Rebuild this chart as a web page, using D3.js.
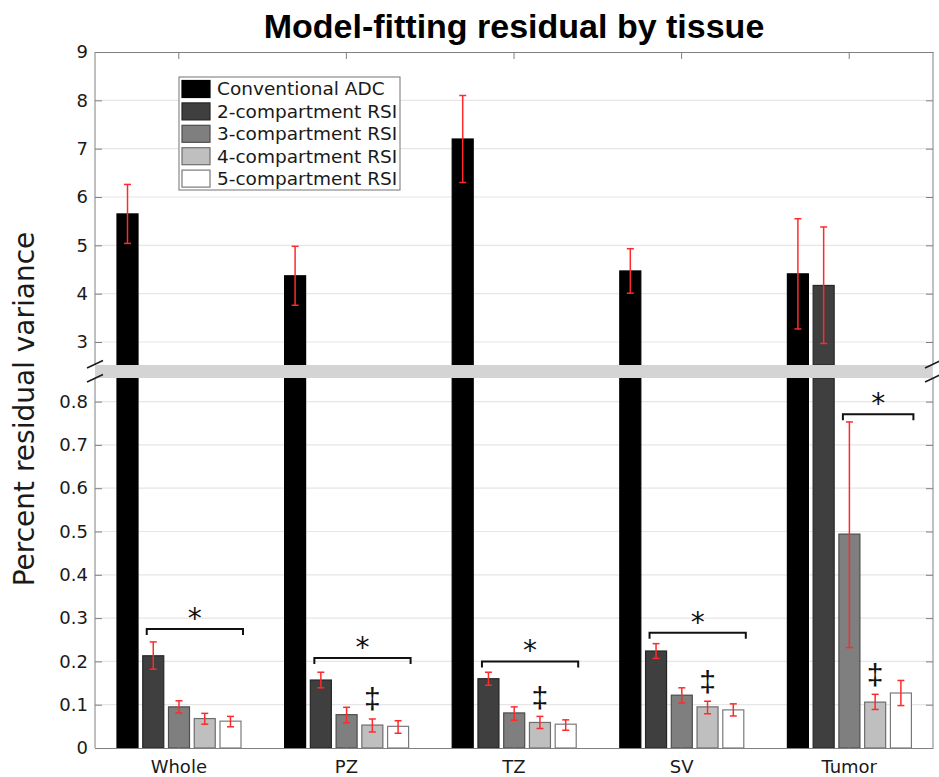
<!DOCTYPE html>
<html>
<head>
<meta charset="utf-8">
<script src="https://cdn.jsdelivr.net/npm/d3@7"></script>
<style>
  body { margin: 0; background: #fff; }
  text { font-family: "DejaVu Sans", sans-serif; }
</style>
</head>
<body>
<svg id="chart"></svg>
<script>
const tissues = ["Whole", "PZ", "TZ", "SV", "Tumor"];
const models = ["Conventional ADC", "2-compartment RSI", "3-compartment RSI", "4-compartment RSI", "5-compartment RSI"];

// mean values per tissue, one per model
const meanValues = [
  [5.65, 0.213, 0.095, 0.068, 0.062],
  [4.37, 0.157, 0.077, 0.053, 0.050],
  [7.20, 0.160, 0.081, 0.059, 0.055],
  [4.47, 0.224, 0.122, 0.095, 0.088],
  [4.41, 4.17, 0.494, 0.106, 0.127]
];
const errHigh = [
  [6.26, 0.245, 0.109, 0.080, 0.073],
  [4.98, 0.175, 0.094, 0.067, 0.063],
  [8.10, 0.175, 0.095, 0.073, 0.065],
  [4.93, 0.241, 0.139, 0.108, 0.102],
  [5.55, 5.38, 0.753, 0.124, 0.156]
];
const errLow = [
  [5.04, 0.182, 0.081, 0.055, 0.049],
  [3.76, 0.139, 0.058, 0.037, 0.034],
  [6.30, 0.145, 0.064, 0.045, 0.041],
  [4.01, 0.207, 0.104, 0.079, 0.074],
  [3.27, 2.97, 0.232, 0.089, 0.098]
];

const upperTicks = [3, 4, 5, 6, 7, 8, 9];
const lowerTicks = [0, 0.1, 0.2, 0.3, 0.4, 0.5, 0.6, 0.7, 0.8];

// significance brackets (*)
const bracketTissues = ["Whole", "PZ", "TZ", "SV", "Tumor"];
const bracketFrom = [1, 1, 1, 1, 2];
const bracketValue = [0.275, 0.208, 0.200, 0.266, 0.771];

// double-dagger marks over the 4-compartment bar
const daggerTissues = ["PZ", "TZ", "SV", "Tumor"];
const daggerValue = [0.115, 0.117, 0.154, 0.169];

const fills = ["#000000", "#3f3f3f", "#7f7f7f", "#bfbfbf", "#ffffff"];
const strokes = ["#000000", "#262626", "#4d4d4d", "#6e6e6e", "#7a7a7a"];

const width = 939, height = 777;
const plotLeft = 95, plotRight = 933, plotTop = 52, plotBottom = 748;
const breakTop = 365, breakBottom = 378;

const svg = d3.select("#chart").attr("width", width).attr("height", height);

const x0 = d3.scaleBand().domain(tissues).range([plotLeft, plotRight]);
const x1 = d3.scaleBand().domain(d3.range(models.length))
  .range([22, 146]).paddingInner(0.184).paddingOuter(0);

const yUp = d3.scaleLinear().domain([3, 9]).range([342, plotTop]);
const yLo = d3.scaleLinear().domain([0, 0.8]).range([plotBottom, 401.6]);
const lowMax = yLo.invert(breakBottom);

function yOf(v) { return v > lowMax ? yUp(v) : yLo(v); }

// gridlines
const grid = svg.append("g");
grid.selectAll("line.gu").data(upperTicks.filter(d => d < 9)).enter().append("line")
  .attr("x1", plotLeft).attr("x2", plotRight)
  .attr("y1", d => yUp(d)).attr("y2", d => yUp(d))
  .attr("stroke", "#e6e6e6").attr("stroke-width", 1.2);
grid.selectAll("line.gl").data(lowerTicks.filter(d => d > 0)).enter().append("line")
  .attr("x1", plotLeft).attr("x2", plotRight)
  .attr("y1", d => yLo(d)).attr("y2", d => yLo(d))
  .attr("stroke", "#e6e6e6").attr("stroke-width", 1.2);

// bars
const flat = [];
tissues.forEach((t, i) => models.forEach((m, j) => {
  flat.push({ tissue: t, s: j, v: meanValues[i][j], lo: errLow[i][j], hi: errHigh[i][j] });
}));

const bars = svg.append("g");
flat.forEach(d => {
  const bx = x0(d.tissue) + x1(d.s);
  const bw = x1.bandwidth();
  if (d.v > lowMax) {
    bars.append("rect").attr("x", bx).attr("y", yUp(d.v))
      .attr("width", bw).attr("height", breakTop - yUp(d.v))
      .attr("fill", fills[d.s]).attr("stroke", strokes[d.s]).attr("stroke-width", 1.2);
    bars.append("rect").attr("x", bx).attr("y", breakBottom)
      .attr("width", bw).attr("height", plotBottom - breakBottom)
      .attr("fill", fills[d.s]).attr("stroke", strokes[d.s]).attr("stroke-width", 1.2);
  } else {
    bars.append("rect").attr("x", bx).attr("y", yLo(d.v))
      .attr("width", bw).attr("height", plotBottom - yLo(d.v))
      .attr("fill", fills[d.s]).attr("stroke", strokes[d.s]).attr("stroke-width", 1.2);
  }
});

// error bars
const err = svg.append("g").attr("stroke", "#ff2a2a").attr("stroke-width", 1.5);
flat.forEach(d => {
  const cx = x0(d.tissue) + x1(d.s) + x1.bandwidth() / 2;
  const y1 = yOf(d.hi), y2 = yOf(d.lo);
  err.append("line").attr("x1", cx).attr("x2", cx).attr("y1", y1).attr("y2", y2);
  err.append("line").attr("x1", cx - 3.5).attr("x2", cx + 3.5).attr("y1", y1).attr("y2", y1);
  err.append("line").attr("x1", cx - 3.5).attr("x2", cx + 3.5).attr("y1", y2).attr("y2", y2);
});

// axes
const axisColor = "#808080";
function styleAxis(g) {
  g.selectAll("path.domain").attr("stroke", axisColor);
  g.selectAll(".tick line").attr("stroke", axisColor);
  g.selectAll(".tick text").attr("fill", "#1a1a1a").style("font-size", "18px")
    .style("font-family", "DejaVu Sans, sans-serif");
}

const leftUp = svg.append("g").attr("transform", `translate(${plotLeft},0)`)
  .call(d3.axisLeft(yUp).tickValues(upperTicks).tickSize(-7).tickPadding(7).tickSizeOuter(0).tickFormat(d3.format("d")));
leftUp.select("path.domain").attr("d", `M0,${plotTop}V${breakTop}`);
styleAxis(leftUp);

const leftLo = svg.append("g").attr("transform", `translate(${plotLeft},0)`)
  .call(d3.axisLeft(yLo).tickValues(lowerTicks).tickSize(-7).tickPadding(7).tickSizeOuter(0)
    .tickFormat(d => d === 0 ? "0" : d3.format(".1f")(d)));
leftLo.select("path.domain").attr("d", `M0,${breakBottom}V${plotBottom}`);
styleAxis(leftLo);

const rightUp = svg.append("g").attr("transform", `translate(${plotRight},0)`)
  .call(d3.axisRight(yUp).tickValues(upperTicks).tickSize(-7).tickSizeOuter(0).tickFormat(""));
rightUp.select("path.domain").attr("d", `M0,${plotTop}V${breakTop}`);
styleAxis(rightUp);

const rightLo = svg.append("g").attr("transform", `translate(${plotRight},0)`)
  .call(d3.axisRight(yLo).tickValues(lowerTicks).tickSize(-7).tickSizeOuter(0).tickFormat(""));
rightLo.select("path.domain").attr("d", `M0,${breakBottom}V${plotBottom}`);
styleAxis(rightLo);

const xTop = svg.append("g").attr("transform", `translate(0,${plotTop})`)
  .call(d3.axisTop(x0).tickSize(-7).tickSizeOuter(0).tickFormat(""));
styleAxis(xTop);

const xBottom = svg.append("g").attr("transform", `translate(0,${plotBottom})`)
  .call(d3.axisBottom(x0).tickSize(-7).tickPadding(12).tickSizeOuter(0));
styleAxis(xBottom);

// axis break band and slashes
svg.append("rect").attr("x", plotLeft).attr("y", breakTop)
  .attr("width", plotRight - plotLeft).attr("height", breakBottom - breakTop)
  .attr("fill", "#d4d4d4");
[plotLeft, plotRight].forEach(ax => {
  [368, 382].forEach(yy => {
    svg.append("line").attr("x1", ax - 8).attr("y1", yy).attr("x2", ax + 8).attr("y2", yy - 7.5)
      .attr("stroke", "#1a1a1a").attr("stroke-width", 1.5);
  });
});

// brackets with stars
const ann = svg.append("g");
bracketTissues.forEach((t, i) => {
  const xa = x0(t) + x1(bracketFrom[i]) + 4;
  const xb = x0(t) + x1(4) + x1.bandwidth() + 2;
  const yb = yLo(bracketValue[i]);
  ann.append("path").attr("d", `M${xa},${yb + 6}V${yb}H${xb}V${yb + 6}`)
    .attr("fill", "none").attr("stroke", "#111").attr("stroke-width", 2);
  ann.append("text").attr("x", (xa + xb) / 2).attr("y", yb - 1)
    .attr("text-anchor", "middle").style("font-size", "28px").attr("fill", "#111").text("*");
});

daggerTissues.forEach((t, i) => {
  const cx = x0(t) + x1(3) + x1.bandwidth() / 2;
  ann.append("text").attr("x", cx).attr("y", yLo(daggerValue[i]))
    .attr("text-anchor", "middle").attr("dominant-baseline", "central")
    .style("font-family", "Liberation Sans, Arial, sans-serif")
    .style("font-size", "30px").attr("fill", "#111").text("\u2021");
});

// legend
const legend = svg.append("g").attr("transform", "translate(179,77)");
legend.append("rect").attr("width", 221).attr("height", 113)
  .attr("fill", "#fff").attr("stroke", "#8a8a8a").attr("stroke-width", 1.2);
models.forEach((m, j) => {
  const row = legend.append("g").attr("transform", `translate(0,${12 + j * 22.4})`);
  row.append("rect").attr("x", 3).attr("y", -8.5).attr("width", 28).attr("height", 17)
    .attr("fill", fills[j]).attr("stroke", strokes[j]).attr("stroke-width", 1.2);
  row.append("text").attr("x", 38).attr("y", 0).attr("dy", "0.35em")
    .style("font-size", "18.5px").attr("fill", "#1a1a1a").text(m);
});

// title and y label
svg.append("text").attr("x", (plotLeft + plotRight) / 2).attr("y", 38)
  .attr("text-anchor", "middle")
  .style("font-family", "Liberation Sans, Arial, sans-serif")
  .style("font-weight", "bold").style("font-size", "34px").text("Model-fitting residual by tissue");

svg.append("text").attr("transform", `translate(34,409) rotate(-90)`)
  .attr("text-anchor", "middle").style("font-size", "28px").attr("fill", "#1a1a1a")
  .text("Percent residual variance");
</script>
</body>
</html>
